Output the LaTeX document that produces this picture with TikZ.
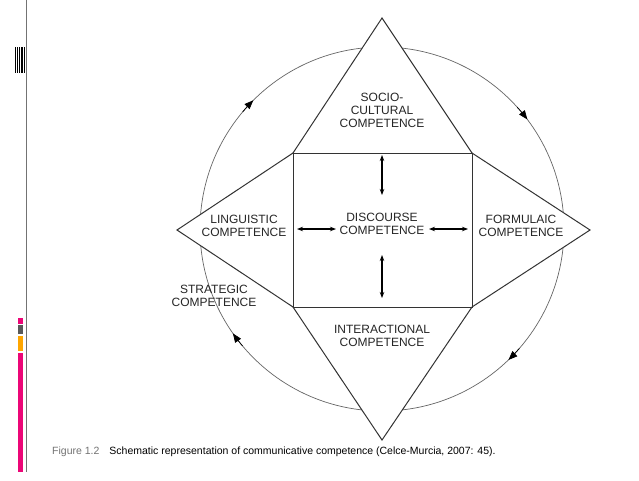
\documentclass[tikz,border=0pt]{standalone}
\usepackage{fontspec}
\setmainfont{Liberation Sans}
\usetikzlibrary{arrows.meta,calc}
\begin{document}
\begin{tikzpicture}[x=1pt,y=-1pt,
  shp/.style={draw=black!80,line width=1pt},
  lbl/.style={font=\fontsize{12}{13}\selectfont,align=center,text=black!85,inner sep=0pt},
  dbl/.style={{Stealth[length=6pt]}-{Stealth[length=6pt]},line width=1.3pt},
  circ/.style={draw=black!60,line width=0.7pt}]
\useasboundingbox (0,0) rectangle (639,480);
\fill[white] (0,0) rectangle (639,480);
% side decorations
\draw[black!55,line width=0.8pt] (26,0) -- (26,472);
\foreach \x in {15.5,17,19,21,22.5,24} \draw[line width=0.8pt] (\x,47) -- (\x,73);
\fill[magenta!80!red] (18,318) rectangle (23,324);
\fill[black!65] (18,325) rectangle (23,334);
\fill[orange!70!yellow] (18,336) rectangle (23,351);
\fill[magenta!80!red] (18,353) rectangle (23,472);
% circle
\coordinate (c) at (382,229);
\draw[circ] (c) circle[radius=182];
% circle arrowheads (clockwise)
\foreach \a in {-136,-38,45,144} {
  \draw[circ,-{Triangle[length=9pt,width=7pt]},draw=black] ($(c)+(\a-4:182)$) arc[start angle=\a-4, end angle=\a+1, radius=182];
}
% shapes
\coordinate (sq1) at (293,153); \coordinate (sq2) at (472,153);
\coordinate (sq3) at (472,307); \coordinate (sq4) at (293,307);
\coordinate (ta) at (382,18); \coordinate (ba) at (382,440);
\coordinate (la) at (177,230); \coordinate (ra) at (590,230);
\fill[white] (sq1) -- (ta) -- (sq2) -- (ra) -- (sq3) -- (ba) -- (sq4) -- (la) -- cycle;
\draw[shp] (sq1) rectangle (sq3);
\draw[shp] (sq1) -- (ta) -- (sq2) -- (ra) -- (sq3) -- (ba) -- (sq4) -- (la) -- cycle;
% labels
\node[lbl] (soc) at (382,110) {SOCIO-\\CULTURAL\\COMPETENCE};
\node[lbl] (dis) at (382,224) {DISCOURSE\\COMPETENCE};
\node[lbl] (lin) at (244,226) {LINGUISTIC\\COMPETENCE};
\node[lbl] (for) at (521,226) {FORMULAIC\\COMPETENCE};
\node[lbl] (int) at (382,336) {INTERACTIONAL\\COMPETENCE};
\node[lbl] (str) at (214,296) {STRATEGIC\\COMPETENCE};
% arrows
\coordinate (u1) at (382,155); \coordinate (u2) at (382,195);
\coordinate (d1) at (382,255); \coordinate (d2) at (382,298);
\draw[dbl] (u1) -- (u2);
\draw[dbl] (d1) -- (d2);
\coordinate (l1) at (297,229); \coordinate (l2) at (336,229);
\coordinate (r1) at (429,229); \coordinate (r2) at (468,229);
\draw[dbl] (l1) -- (l2);
\draw[dbl] (r1) -- (r2);
% caption
\node[anchor=west,inner sep=0pt,font=\fontsize{10.5}{12}\selectfont] (cap) at (52,452)
 {\textcolor{black!55}{Figure 1.2}\hspace{10pt}Schematic representation of communicative competence (Celce-Murcia, 2007: 45).};
\end{tikzpicture}
\end{document}
